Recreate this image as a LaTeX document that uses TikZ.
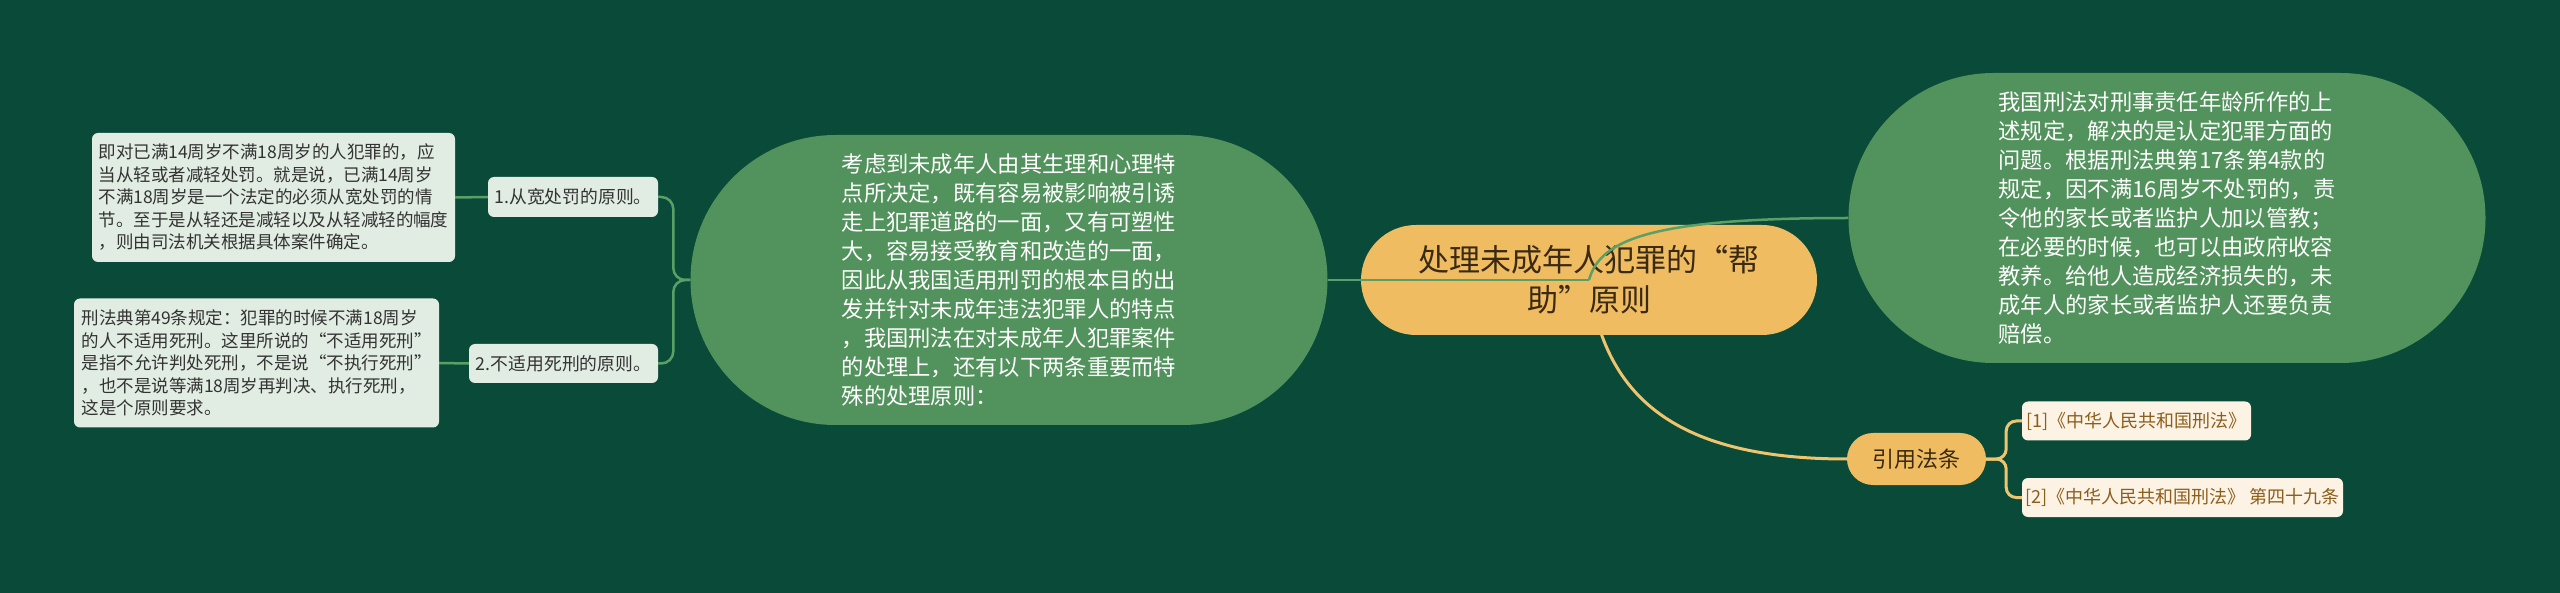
\documentclass[tikz,border=0pt]{standalone}
\usepackage{fontspec}
\setmainfont{Noto Sans CJK SC}
\pgfdeclarelayer{back}
\pgfsetlayers{back,main}

\definecolor{bgcol}{HTML}{0A4A39}
\definecolor{leafgreen}{HTML}{52925C}
\definecolor{rootorange}{HTML}{F0BC62}
\definecolor{paleleaf}{HTML}{E1ECE3}
\definecolor{cream}{HTML}{FCF3E4}
\definecolor{citebrown}{HTML}{8C5E1C}
\definecolor{rootink}{HTML}{3A2A12}
\definecolor{branchgreen}{HTML}{5AA066}
\definecolor{branchorange}{HTML}{EEC46F}

\tikzset{
  rootnode/.style={fill=rootorange, text=rootink, rounded corners=55pt,
    minimum width=456pt, minimum height=110pt, inner sep=0pt, align=center,
    font=\fontsize{31}{40}\selectfont},
  bignode/.style={fill=leafgreen, text=white, rounded corners=145pt,
    minimum width=637pt, minimum height=290pt, inner sep=0pt, align=left,
    font=\fontsize{22.3}{29}\selectfont},
  tagnode/.style={fill=rootorange, text=rootink, rounded corners=26pt,
    minimum width=139pt, minimum height=52pt, inner sep=0pt,
    font=\fontsize{22}{26}\selectfont},
  leafbox/.style={fill=paleleaf, text=black!80, rounded corners=6pt,
    inner sep=0pt, font=\fontsize{17.8}{21}\selectfont},
  notebox/.style={fill=paleleaf, text=black!80, rounded corners=6pt,
    inner sep=0pt, align=left, minimum height=129pt,
    font=\fontsize{17.5}{22.5}\selectfont},
  citebox/.style={fill=cream, text=citebrown, rounded corners=6pt,
    inner sep=0pt, minimum height=39pt, font=\fontsize{18}{22}\selectfont},
  gline/.style={draw=branchgreen, line width=2.5pt},
  oline/.style={draw=branchorange, line width=3pt},
}

\begin{document}
\begin{tikzpicture}[x=1pt,y=-1pt]
\begin{pgfonlayer}{back}
\fill[bgcol] (0,0) rectangle (2560,593);
\end{pgfonlayer}
\useasboundingbox (0,0) rectangle (2560,593);

\node[rootnode] (root) at (1589,280) {处理未成年人犯罪的“帮\\助”原则};
\node[bignode] (reason) at (1009,280) {考虑到未成年人由其生理和心理特\\
  点所决定，既有容易被影响被引诱\\走上犯罪道路的一面，又有可塑性\\
  大，容易接受教育和改造的一面，\\因此从我国适用刑罚的根本目的出\\
  发并针对未成年违法犯罪人的特点\\，我国刑法在对未成年人犯罪案件\\
  的处理上，还有以下两条重要而特\\殊的处理原则：};
\node[bignode] (duty) at (2167,218) {我国刑法对刑事责任年龄所作的上\\
  述规定，解决的是认定犯罪方面的\\问题。根据刑法典第17条第4款的\\
  规定，因不满16周岁不处罚的，责\\令他的家长或者监护人加以管教；\\
  在必要的时候，也可以由政府收容\\教养。给他人造成经济损失的，未\\
  成年人的家长或者监护人还要负责\\赔偿。};
\node[tagnode] (cite) at (1916.5,459) {引用法条};

\node[leafbox, minimum width=170pt, minimum height=40pt] (mild) at (573,197) {1.从宽处罚的原则。};
\node[leafbox, minimum width=189pt, minimum height=39pt] (nodeath) at (563.5,363.5) {2.不适用死刑的原则。};
\node[notebox, minimum width=363pt] (mildnote) at (273.5,197.5) {即对已满14周岁不满18周岁的人犯罪的，应\\
  当从轻或者减轻处罚。就是说，已满14周岁\\不满18周岁是一个法定的必须从宽处罚的情\\
  节。至于是从轻还是减轻以及从轻减轻的幅度\\，则由司法机关根据具体案件确定。};
\node[notebox, minimum width=365pt] (nodeathnote) at (256.5,363) {刑法典第49条规定：犯罪的时候不满18周岁\\
  的人不适用死刑。这里所说的“不适用死刑”\\是指不允许判处死刑，不是说“不执行死刑”\\
  ，也不是说等满18周岁再判决、执行死刑，\\这是个原则要求。};

\node[citebox, minimum width=229pt] (law1) at (2136.5,421) {[1]《中华人民共和国刑法》};
\node[citebox, minimum width=321pt] (law2) at (2182.5,497.5) {[2]《中华人民共和国刑法》 第四十九条};

\begin{pgfonlayer}{back}
\draw[oline] (root.center) .. controls +(15,120) and +(-168,0) .. (cite.west);
\end{pgfonlayer}
\draw[gline] (root.center) -- (reason.east);
\draw[gline] (root.center) .. controls +(11,-40) and +(-199,0) .. (duty.west);
\draw[gline, rounded corners=12pt] (reason.west) -- ++(-17,0) |- (mild.east);
\draw[gline, rounded corners=12pt] (reason.west) -- ++(-17,0) |- (nodeath.east);
\draw[gline] (mild.west) -- (mildnote.east);
\draw[gline] (nodeath.west) -- (nodeathnote.east);
\draw[oline, rounded corners=10pt] (cite.east) -- ++(20,0) |- (law1.west);
\draw[oline, rounded corners=10pt] (cite.east) -- ++(20,0) |- (law2.west);
\end{tikzpicture}
\end{document}
